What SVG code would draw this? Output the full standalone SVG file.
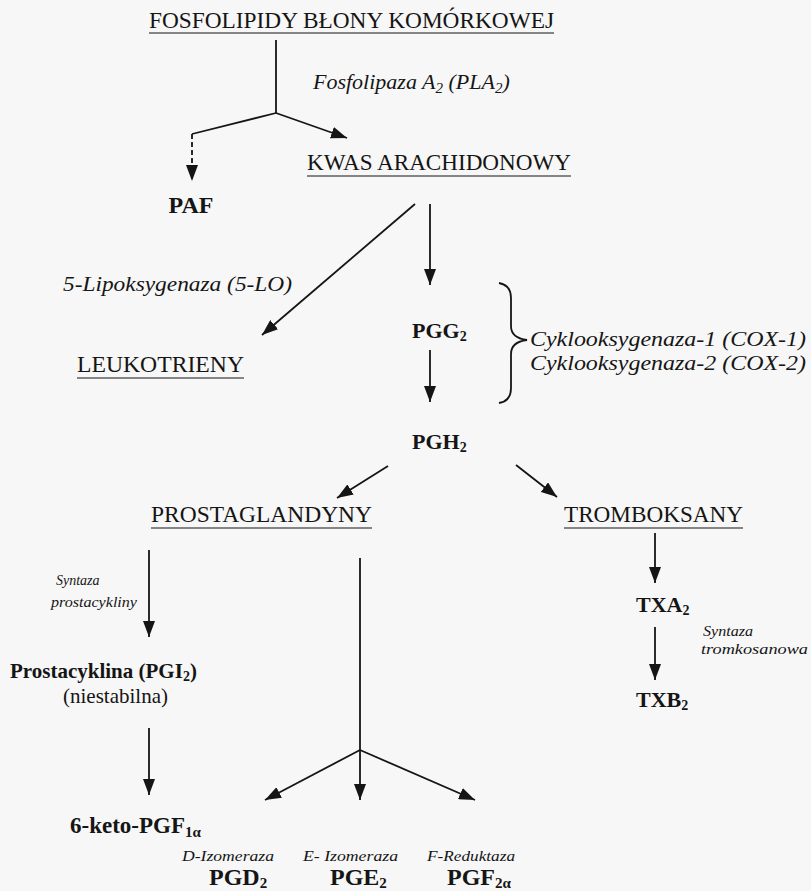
<svg xmlns="http://www.w3.org/2000/svg" width="811" height="891" viewBox="0 0 811 891">
  <defs>
    <marker id="head" viewBox="0 0 16 12" refX="16" refY="6" markerWidth="16" markerHeight="12" markerUnits="userSpaceOnUse" orient="auto">
      <path d="M0,0 L16,6 L0,12 Z" fill="#151515"/>
    </marker>
    <style>
      text { font-family: "Liberation Serif", "Times New Roman", serif; fill: #151515; }
      .head { font-size: 24px; }
      .bold { font-size: 22px; font-weight: bold; }
      .enz { font-size: 20px; font-style: italic; }
      .small { font-size: 15px; font-style: italic; }
      .plain { font-size: 21px; }
      .sub { font-size: 14px; }
      .ul { stroke: #151515; stroke-width: 1.2; }
      .line { fill: none; stroke: #151515; stroke-width: 1.8; }
      .arrow { fill: none; stroke: #151515; stroke-width: 1.8; marker-end: url(#head); }
      .dash { stroke-dasharray: 5 3; }
    </style>
  </defs>

  <rect width="811" height="891" fill="#f7f7f7"/>

  <!-- connectors -->
  <g id="connectors">
    <line class="line" x1="276" y1="40" x2="276" y2="113"/>
    <path class="line" d="M276,113 L192,134"/>
    <path class="arrow dash" d="M192,134 V181"/>
    <path class="arrow" d="M276,113 L347,138"/>
    <path class="arrow" d="M415,204 L262,335"/>
    <path class="arrow" d="M430,204 V285"/>
    <path class="arrow" d="M430,350 V402"/>
    <path class="arrow" d="M388,466 L337,498"/>
    <path class="arrow" d="M516,465 L557,497"/>
    <path class="arrow" d="M149,550 V637"/>
    <line class="line" x1="360" y1="558" x2="360" y2="750"/>
    <path class="arrow" d="M655,533 V583"/>
    <path class="arrow" d="M655,627 V680"/>
    <path class="arrow" d="M149,728 V795"/>
    <path class="arrow" d="M360,750 L265,800"/>
    <path class="arrow" d="M360,750 V800"/>
    <path class="arrow" d="M360,750 L475,800"/>
    <!-- curly brace grouping the two cyclooxygenases -->
    <path class="line" d="M499,283 Q511,285 511,298 V326 Q511,338 527,340 Q511,342 511,354 V388 Q511,401 499,403"/>
  </g>

  <g id="fosfolipidy">
    <text class="head" x="149" y="28" textLength="405" lengthAdjust="spacingAndGlyphs">FOSFOLIPIDY BŁONY KOMÓRKOWEJ</text>
    <line class="ul" x1="149" y1="33" x2="554" y2="33"/>
  </g>
  <g id="pla2">
    <text class="enz" x="313" y="89" style="font-size:22px">Fosfolipaza A<tspan class="sub" style="font-size:15px" dy="4">2</tspan><tspan dy="-4"> (PLA</tspan><tspan class="sub" style="font-size:15px" dy="4">2</tspan><tspan dy="-4">)</tspan></text>
  </g>
  <g id="kwas">
    <text class="head" x="307" y="170" textLength="264" lengthAdjust="spacingAndGlyphs">KWAS ARACHIDONOWY</text>
    <line class="ul" x1="307" y1="176" x2="571" y2="176"/>
  </g>
  <g id="paf">
    <text class="bold" x="191" y="213" text-anchor="middle" style="font-size:24px">PAF</text>
  </g>
  <g id="lo5">
    <text class="enz" x="63" y="291" textLength="229" lengthAdjust="spacingAndGlyphs">5-Lipoksygenaza (5-LO)</text>
  </g>
  <g id="leukotrieny">
    <text class="head" x="77" y="372" textLength="167" lengthAdjust="spacingAndGlyphs">LEUKOTRIENY</text>
    <line class="ul" x1="77" y1="378" x2="244" y2="378"/>
  </g>
  <g id="pgg2">
    <text class="bold" x="412" y="338">PGG<tspan class="sub" dy="3">2</tspan></text>
  </g>
  <g id="cox">
    <text class="enz" x="530" y="346" textLength="276" lengthAdjust="spacingAndGlyphs">Cyklooksygenaza-1 (COX-1)</text>
    <text class="enz" x="530" y="370" textLength="276" lengthAdjust="spacingAndGlyphs">Cyklooksygenaza-2 (COX-2)</text>
  </g>
  <g id="pgh2">
    <text class="bold" x="412" y="449">PGH<tspan class="sub" dy="3">2</tspan></text>
  </g>
  <g id="prostaglandyny">
    <text class="head" x="151" y="522" textLength="221" lengthAdjust="spacingAndGlyphs">PROSTAGLANDYNY</text>
    <line class="ul" x1="151" y1="528" x2="372" y2="528"/>
  </g>
  <g id="tromboksany">
    <text class="head" x="564" y="522" textLength="179" lengthAdjust="spacingAndGlyphs">TROMBOKSANY</text>
    <line class="ul" x1="564" y1="528" x2="743" y2="528"/>
  </g>
  <g id="syntaza-prostacykliny">
    <text class="small" x="56" y="585" style="font-size:14px">Syntaza</text>
    <text class="small" x="51" y="607" style="font-size:14px" textLength="86" lengthAdjust="spacingAndGlyphs">prostacykliny</text>
  </g>
  <g id="txa2">
    <text class="bold" x="636" y="612">TXA<tspan class="sub" dy="3">2</tspan></text>
  </g>
  <g id="syntaza-tromboksanowa">
    <text class="small" x="703" y="636" textLength="50" lengthAdjust="spacingAndGlyphs">Syntaza</text>
    <text class="small" x="701" y="654" textLength="107" lengthAdjust="spacingAndGlyphs">tromkosanowa</text>
  </g>
  <g id="txb2">
    <text class="bold" x="636" y="707">TXB<tspan class="sub" dy="3">2</tspan></text>
  </g>
  <g id="pgi2">
    <text class="bold" x="10" y="678" style="font-size:21px">Prostacyklina (PGI<tspan class="sub" dy="3">2</tspan><tspan dy="-3">)</tspan></text>
    <text class="plain" x="63" y="703">(niestabilna)</text>
  </g>
  <g id="keto-pgf1a">
    <text class="bold" x="70" y="833" style="font-size:23px">6-keto-PGF<tspan class="sub" style="font-size:15px" dy="4">1α</tspan></text>
  </g>
  <g id="pgd2">
    <text class="small" x="182" y="861" textLength="92" lengthAdjust="spacingAndGlyphs">D-Izomeraza</text>
    <text class="bold" x="209" y="885" style="font-size:24px">PGD<tspan class="sub" style="font-size:15px" dy="3">2</tspan></text>
  </g>
  <g id="pge2">
    <text class="small" x="303" y="861" textLength="95" lengthAdjust="spacingAndGlyphs">E- Izomeraza</text>
    <text class="bold" x="330" y="885" style="font-size:24px">PGE<tspan class="sub" style="font-size:15px" dy="3">2</tspan></text>
  </g>
  <g id="pgf2a">
    <text class="small" x="427" y="861" textLength="88" lengthAdjust="spacingAndGlyphs">F-Reduktaza</text>
    <text class="bold" x="447" y="885" style="font-size:24px">PGF<tspan class="sub" style="font-size:15px" dy="3">2α</tspan></text>
  </g>
</svg>
